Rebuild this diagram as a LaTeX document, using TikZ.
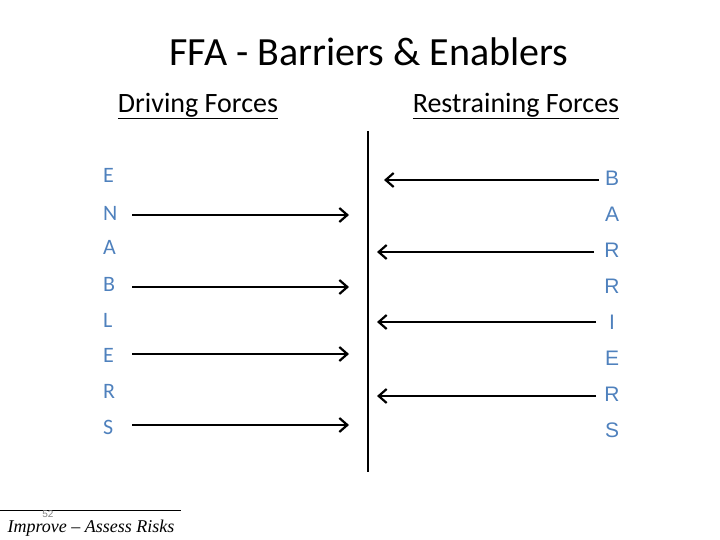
\documentclass[tikz,border=0pt]{standalone}
\usepackage{fontspec}
\setmainfont{Carlito}
\newfontfamily\arialfont{Liberation Sans}
\newfontfamily\timesfont[Ligatures=TeX]{Liberation Serif}
\usetikzlibrary{arrows.meta}
\definecolor{letterblue}{RGB}{79,129,189}
\tikzset{
  force/.style={line width=1.8pt,-{Straight Barb[length=8pt,width=14pt,line width=2.2pt]}},
  leftletter/.style={anchor=west,text=letterblue,font=\fontsize{22}{26}\selectfont,inner sep=0pt},
  rightletter/.style={text=letterblue,font=\arialfont\fontsize{21}{25}\selectfont,inner sep=0pt}
}
\begin{document}
\begin{tikzpicture}[x=1pt,y=-1pt]
  \useasboundingbox (0,0) rectangle (720,540);
  % headings
  \node (title) at (369,52) {\fontsize{40}{46}\selectfont FFA - Barriers \& Enablers};
  \node (drive) at (198,106) {\fontsize{28}{33}\selectfont\underline{Driving Forces}};
  \node (restrain) at (516,106) {\fontsize{28}{33}\selectfont\underline{Restraining Forces}};
  % middle line
  \coordinate (top) at (368,131);
  \coordinate (bottom) at (368,472);
  \draw[line width=1.8pt] (top) -- (bottom);
  % enablers
  \node[leftletter] (e1) at (103,175) {E};
  \node[leftletter] (n1) at (103,213) {N};
  \node[leftletter] (a1) at (103,247) {A};
  \node[leftletter] (b1) at (103,284) {B};
  \node[leftletter] (l1) at (103,320) {L};
  \node[leftletter] (e2) at (103,355) {E};
  \node[leftletter] (r1) at (103,391) {R};
  \node[leftletter] (s1) at (103,427) {S};
  % barriers
  \node[rightletter] (b2) at (612,178) {B};
  \node[rightletter] (a2) at (612,214) {A};
  \node[rightletter] (r2) at (612,250) {R};
  \node[rightletter] (r3) at (612,286) {R};
  \node[rightletter] (i2) at (612,322) {I};
  \node[rightletter] (e3) at (612,358) {E};
  \node[rightletter] (r4) at (612,394) {R};
  \node[rightletter] (s2) at (612,430) {S};
  % driving arrows
  \coordinate (dn) at (349,215);
  \coordinate (db) at (349,287);
  \coordinate (de) at (349,354);
  \coordinate (ds) at (349,425);
  \draw[force] (132,215) -- (dn);
  \draw[force] (132,287) -- (db);
  \draw[force] (132,354) -- (de);
  \draw[force] (132,425) -- (ds);
  % restraining arrows
  \coordinate (rb) at (384,180);
  \coordinate (rr) at (377,252);
  \coordinate (ri) at (377,322);
  \coordinate (rr2) at (377,396);
  \draw[force] (599,180) -- (rb);
  \draw[force] (594,252) -- (rr);
  \draw[force] (596,322) -- (ri);
  \draw[force] (596,396) -- (rr2);
  % footer
  \draw[line width=0.7pt] (0,510) -- (181,510);
  \node[text=gray,font=\arialfont\fontsize{10}{12}\selectfont,inner sep=0pt] (page) at (48,514) {52};
  \node[font=\timesfont\itshape\fontsize{18}{21}\selectfont,inner sep=0pt] (foot) at (91,528) {Improve -- Assess Risks};
\end{tikzpicture}
\end{document}
